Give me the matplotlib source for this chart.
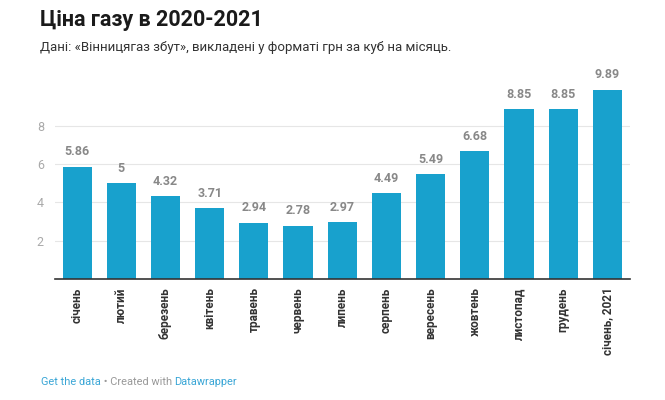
import matplotlib.pyplot as plt
import numpy as np

plt.rcParams['font.family'] = ['Roboto', 'DejaVu Sans']

months = ['січень', 'лютий', 'березень', 'квітень', 'травень', 'червень', 'липень',
          'серпень', 'вересень', 'жовтень', 'листопад', 'грудень', 'січень, 2021']
prices = [5.86, 5, 4.32, 3.71, 2.94, 2.78, 2.97, 4.49, 5.49, 6.68, 8.85, 8.85, 9.89]
price_labels = ['5.86', '5', '4.32', '3.71', '2.94', '2.78', '2.97',
                '4.49', '5.49', '6.68', '8.85', '8.85', '9.89']

fig = plt.figure(figsize=(6.65, 4.0), dpi=100)
ax = fig.add_axes([0.0827, 0.3025, 0.864, 0.4932])

x = np.arange(len(months))
ax.bar(x, prices, width=0.66, color='#18a1cd', zorder=2)

for xi, v, lab in zip(x, prices, price_labels):
    ax.annotate(lab, (xi, v), xytext=(0, 6), textcoords='offset points',
                ha='center', va='bottom', fontsize=9, fontweight='bold', color='#888888')

ax.set_xlim(-0.5, len(months) - 0.5)
ax.set_ylim(0, 10.3)
ax.set_yticks([2, 4, 6, 8])
ax.set_yticklabels(['2', '4', '6', '8'])
ax.grid(axis='y', color='#e6e6e6', linewidth=0.8, zorder=0)
ax.tick_params(axis='y', length=0, pad=8, labelsize=9, labelcolor='#aaaaaa')
ax.set_xticks(x)
ax.set_xticklabels(months, rotation=90, fontsize=8.5, fontweight='bold', color='#333333')
ax.tick_params(axis='x', length=0, pad=6)
for s in ['top', 'right', 'left']:
    ax.spines[s].set_visible(False)
ax.spines['bottom'].set_color('#333333')
ax.spines['bottom'].set_linewidth(1.2)

fig.text(40 / 665, 1 - 20 / 400, 'Ціна газу в 2020-2021', fontsize=15.5, fontweight='bold',
         color='#1a1a1a', va='center', ha='left')
fig.text(40 / 665, 1 - 48 / 400, 'Дані: «Вінницягаз збут», викладені у форматі грн за куб на місяць.',
         fontsize=9.5, color='#333333', va='center', ha='left')

# footer
fig.canvas.draw()
r = fig.canvas.get_renderer()
xpos = 41 / 665
for txt, col in [('Get the data', '#3aa6d6'), (' • Created with ', '#999999'), ('Datawrapper', '#3aa6d6')]:
    t = fig.text(xpos, 1 - 382 / 400, txt, fontsize=7.9, color=col, va='center', ha='left')
    bb = t.get_window_extent(renderer=r)
    xpos += bb.width / fig.bbox.width

fig.savefig('out.png', dpi=100)
